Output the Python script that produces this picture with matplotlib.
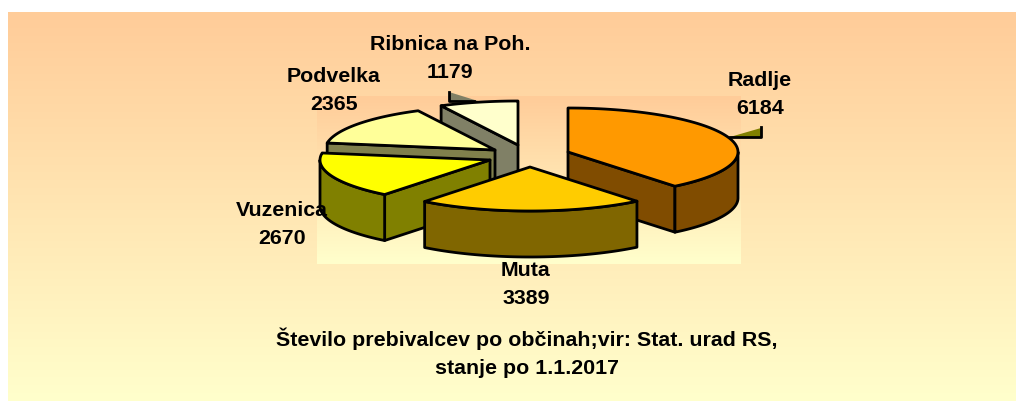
import numpy as np
import matplotlib
matplotlib.use("Agg")
import matplotlib.pyplot as plt
from matplotlib.colors import LinearSegmentedColormap
from matplotlib.patches import Polygon

# data
obcine = ["Radlje", "Muta", "Vuzenica", "Podvelka", "Ribnica na Poh."]
prebivalci = [6184, 3389, 2670, 2365, 1179]
naslov = "Število prebivalcev po občinah;vir: Stat. urad RS,\nstanje po 1.1.2017"

# look of the slices
top_colors = ["#ff9900", "#ffcc00", "#ffff00", "#ffff99", "#ffffcc"]
side_colors = ["#804c00", "#806600", "#808000", "#80804c", "#808066"]
centers = [(568, 152), (530, 167), (490, 160), (495, 150), (518, 145)]
label_pos = [(760, 95), (526, 285), (282, 224), (334, 91), (450, 59)]
draw_order = [4, 3, 2, 0, 1]
RX, RY, DEPTH = 170, 44, 46

plt.rcParams["font.family"] = ["Liberation Sans", "DejaVu Sans"]
plt.rcParams["font.weight"] = "bold"

fig = plt.figure(figsize=(10.16, 4.01), dpi=100)
ax = fig.add_axes([0, 0, 1, 1])
ax.set_axis_off()

grad = LinearSegmentedColormap.from_list("bg", ["#ffcc99", "#ffffcc"])
col = np.linspace(0, 1, 256).reshape(-1, 1)
ax.imshow(col, cmap=grad, extent=(8, 1016, 401, 12), aspect="auto", zorder=0)
ax.imshow(col, cmap=grad, extent=(317, 741, 264, 96), aspect="auto", zorder=1)
ax.set_xlim(0, 1016)
ax.set_ylim(401, 0)


def rim_point(center, deg):
    a = np.radians(deg)
    return center[0] + RX * np.sin(a), center[1] - RY * np.cos(a)


def draw_slice(center, a0, a1, top, side, z):
    edge = dict(edgecolor="black", linewidth=2.0, joinstyle="round", zorder=z)
    cx, cy = center
    # cut faces, only the ones turned to the viewer
    for deg, show in ((a0, a0 > 180), (a1, a1 < 180)):
        if show:
            px, py = rim_point(center, deg)
            ax.add_patch(Polygon([(cx, cy), (px, py), (px, py + DEPTH), (cx, cy + DEPTH)],
                                 facecolor=side, **edge))
    # outer wall, front half only
    r0, r1 = max(a0, 90), min(a1, 270)
    if r1 > r0:
        x, y = rim_point(center, np.linspace(r0, r1, 60))
        wall = np.r_[np.c_[x, y], np.c_[x, y + DEPTH][::-1]]
        ax.add_patch(Polygon(wall, facecolor=side, **edge))
    # top
    x, y = rim_point(center, np.linspace(a0, a1, 80))
    ax.add_patch(Polygon(np.r_[[(cx, cy)], np.c_[x, y]], facecolor=top, **edge))


angles = np.r_[0, np.cumsum(prebivalci)] / sum(prebivalci) * 360

for n, i in enumerate(draw_order):
    draw_slice(centers[i], angles[i], angles[i + 1], top_colors[i], side_colors[i], 3 + n)

# little leader stubs next to the labels
ax.add_patch(Polygon([(730, 137), (761, 128), (761, 137)], facecolor="#808000", edgecolor="none", zorder=2))
ax.plot([730, 761, 761], [137, 137, 127], color="black", lw=2.0, zorder=2)
ax.add_patch(Polygon([(449, 92), (449, 101), (478, 101)], facecolor="#808066", edgecolor="none", zorder=2))
ax.plot([449, 449, 474], [92, 101, 101], color="black", lw=2.0, zorder=2)

for name, val, (x, y) in zip(obcine, prebivalci, label_pos):
    ax.text(x, y, f"{name}\n{val}", ha="center", va="center", fontsize=15.4,
            fontweight="bold", linespacing=1.6, color="black", zorder=20)

ax.text(527, 352.5, naslov, ha="center", va="center", fontsize=15.4, fontweight="bold",
        linespacing=1.6, color="black", zorder=20)

fig.savefig("out.png", dpi=100)
